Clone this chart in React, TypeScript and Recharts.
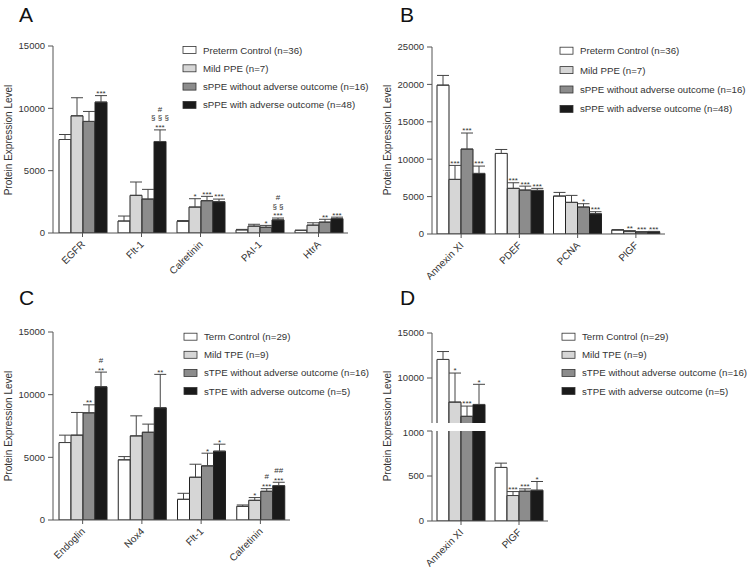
import React from 'react';
import { BarChart, Bar, XAxis, YAxis, ErrorBar, LabelList } from 'recharts';

const FONT = '"Liberation Sans", Arial, sans-serif';
const FILLS = ['#ffffff', '#d6d6d6', '#8c8c8c', '#1a1a1a'];
const AX = '#555';
const TXT = '#333';

// Panel A - preterm
const catsA = ['EGFR', 'Flt-1', 'Calretinin', 'PAI-1', 'HtrA'];
const namesA = ['Preterm Control (n=36)', 'Mild PPE (n=7)', 'sPPE without adverse outcome (n=16)', 'sPPE with adverse outcome (n=48)'];
const ctrlA = [7500, 960, 940, 250, 200];
const mildA = [9400, 3020, 2080, 550, 630];
const withoutA = [8950, 2720, 2590, 460, 870];
const withA = [10500, 7340, 2510, 1050, 1150];
const ctrlSemA = [400, 400, 60, 40, 40];
const mildSemA = [1450, 1070, 670, 150, 190];
const withoutSemA = [800, 780, 350, 150, 230];
const withSemA = [520, 930, 210, 150, 120];
const notesA = [
  ['', '', '', '', ''],
  ['', '', '*', '', ''],
  ['', '', '***', '*', '**'],
  ['***', '#|§ § §|***', '***', '#|§ §|***', '***'],
];

// Panel B - preterm
const catsB = ['Annexin XI', 'PDEF', 'PCNA', 'PlGF'];
const ctrlB = [19900, 10770, 5070, 530];
const mildB = [7300, 6100, 4230, 360];
const withoutB = [11350, 5870, 3600, 270];
const withB = [8100, 5830, 2710, 300];
const ctrlSemB = [1300, 530, 490, 70];
const mildSemB = [1870, 750, 930, 90];
const withoutSemB = [2150, 530, 450, 40];
const withSemB = [980, 270, 270, 50];
const notesB = [
  ['', '', '', ''],
  ['***', '***', '', '**'],
  ['***', '***', '*', '***'],
  ['***', '***', '***', '***'],
];

// Panel C - term
const catsC = ['Endoglin', 'Nox4', 'Flt-1', 'Calretinin'];
const namesC = ['Term Control (n=29)', 'Mild TPE (n=9)', 'sTPE without adverse outcome (n=16)', 'sTPE with adverse outcome (n=5)'];
const ctrlC = [6180, 4800, 1650, 1090];
const mildC = [6770, 6710, 3410, 1570];
const withoutC = [8550, 7000, 4320, 2290];
const withC = [10630, 8950, 5490, 2740];
const ctrlSemC = [590, 260, 480, 110];
const mildSemC = [1810, 1600, 1040, 220];
const withoutSemC = [640, 650, 1010, 210];
const withSemC = [1170, 2670, 560, 270];
const notesC = [
  ['', '', '', ''],
  ['', '', '', '*'],
  ['**', '', '*', '#|***'],
  ['#|**', '**', '*', '##|***'],
];

// Panel D - term, broken axis
const catsD = ['Annexin XI', 'PlGF'];
const ctrlD = [12060, 595];
const mildD = [7320, 283];
const withoutD = [5740, 331];
const withD = [7060, 342];
const ctrlSemD = [880, 48];
const mildSemD = [3230, 44];
const withoutSemD = [1140, 26];
const withSemD = [2240, 97];
const notesD = [
  ['', ''],
  ['*', '***'],
  ['***', '***'],
  ['*', '*'],
];

function buildRows(cats: string[], vals: number[][], sems: number[][], notes: string[][], minVal = -Infinity) {
  return cats.map((c, i) => {
    const r: any = { name: c };
    vals.forEach((v, k) => {
      r['s' + k] = v[i] > minVal ? v[i] : null;
      r['e' + k] = [0, sems[k][i]];
      r['n' + k] = notes[k][i];
    });
    return r;
  });
}

const dataA = buildRows(catsA, [ctrlA, mildA, withoutA, withA], [ctrlSemA, mildSemA, withoutSemA, withSemA], notesA);
const dataB = buildRows(catsB, [ctrlB, mildB, withoutB, withB], [ctrlSemB, mildSemB, withoutSemB, withSemB], notesB);
const dataC = buildRows(catsC, [ctrlC, mildC, withoutC, withC], [ctrlSemC, mildSemC, withoutSemC, withSemC], notesC);
const dataDLow = buildRows(catsD, [ctrlD, mildD, withoutD, withD], [ctrlSemD, mildSemD, withoutSemD, withSemD], notesD);
// upper segment of the broken axis only gets the bars that reach above 5000
const dataDHigh = buildRows(catsD, [ctrlD, mildD, withoutD, withD], [ctrlSemD, mildSemD, withoutSemD, withSemD], notesD, 5000);

// significance marks stacked above the error bar
function noteRenderer(data: any[], k: number, lo: number, hi: number) {
  return (props: any) => {
    const vb = props.viewBox || props;
    const row = data[props.index];
    if (!row || !vb) return null;
    const v = row['s' + k];
    const note = row['n' + k];
    if (!note || v == null || v > hi || v <= lo) return null;
    const h = Math.abs(vb.height);
    const top = Math.min(vb.y, vb.y + vb.height);
    const ppu = h / (v - lo);
    const ey = top - row['e' + k][1] * ppu;
    const lines = note.split('|');
    const n = lines.length;
    return (
      <g>
        {lines.map((t: string, j: number) => {
          const cy = ey - 4.2 - (n - 1 - j) * 8.3;
          const star = t.indexOf('*') >= 0;
          return (
            <text key={j} x={vb.x + vb.width / 2} y={cy + (star ? 4.6 : 3)} textAnchor="middle"
              fontSize={8} fill={TXT} fontFamily={FONT}>{t}</text>
          );
        })}
      </g>
    );
  };
}

const RotTick = (p: any) => (
  <g transform={`translate(${p.x},${p.y})`}>
    <text x={0} y={0} transform="translate(3,6) rotate(-45)" textAnchor="end"
      fontSize={10} fill={TXT} fontFamily={FONT}>{p.payload.value}</text>
  </g>
);

// bar cut at the axis break: no bottom edge
const OpenBottom = (p: any) => {
  const { x, y, width, height, fill } = p;
  if (!height || height <= 0) return null;
  return (
    <g>
      <rect x={x} y={y} width={width} height={height + 2} fill={fill} />
      <path d={`M${x},${y + height + 2}L${x},${y}L${x + width},${y}L${x + width},${y + height + 2}`}
        fill="none" stroke="#222" strokeWidth={1} />
    </g>
  );
};

function Panel(props: any) {
  const { data, left, top, width, height, margin, domain, ticks, hideX, xHeight, open } = props;
  const lo = domain[0];
  const hi = domain[1];
  return (
    <div style={{ position: 'absolute', left, top }}>
      <BarChart width={width} height={height} data={data} margin={margin} barGap={0}>
        <XAxis dataKey="name" hide={hideX} height={xHeight} stroke={AX} tickSize={4} tickMargin={2}
          tick={RotTick} interval={0} />
        <YAxis width={40} domain={domain} ticks={ticks} allowDataOverflow stroke={AX} tickSize={5}
          tickMargin={3} tick={{ fontSize: 9.5, fill: TXT, fontFamily: FONT }} />
        {[0, 1, 2, 3].map((k) => (
          <Bar key={k} dataKey={'s' + k} fill={FILLS[k]} stroke="#222" strokeWidth={1} barSize={12}
            isAnimationActive={false} shape={open ? OpenBottom : undefined}>
            <ErrorBar dataKey={'e' + k} width={6} stroke="#444" strokeWidth={1} direction="y" />
            <LabelList dataKey={'n' + k} content={noteRenderer(data, k, lo, hi)} />
          </Bar>
        ))}
      </BarChart>
    </div>
  );
}

function Legend({ x, y, step, names }: any) {
  return (
    <g>
      {names.map((nm: string, i: number) => (
        <g key={i}>
          <rect x={x} y={y + i * step - 3.5} width={13} height={7} fill={FILLS[i]} stroke="#333" strokeWidth={0.8} />
          <text x={x + 20} y={y + i * step + 3.5} fontSize={9.7} fill={TXT} fontFamily={FONT}>{nm}</text>
        </g>
      ))}
    </g>
  );
}

function YLabel({ x, y }: any) {
  return (
    <text x={x} y={y} transform={`rotate(-90 ${x} ${y})`} textAnchor="middle" dominantBaseline="middle"
      fontSize={10} fill={TXT} fontFamily={FONT}>Protein Expression Level</text>
  );
}

export default function App() {
  return (
    <div style={{ position: 'absolute', left: 0, top: 0, width: 751, height: 568, background: '#fff', overflow: 'hidden' }}>
      <Panel data={dataA} left={0} top={0} width={380} height={290}
        margin={{ top: 46, right: 32, bottom: 7, left: 13 }} xHeight={50}
        domain={[0, 15000]} ticks={[0, 5000, 10000, 15000]} />
      <Panel data={dataB} left={380} top={0} width={371} height={290}
        margin={{ top: 47, right: 86, bottom: 6, left: 12 }} xHeight={50}
        domain={[0, 25000]} ticks={[0, 5000, 10000, 15000, 20000, 25000]} />
      <Panel data={dataC} left={0} top={280} width={380} height={288}
        margin={{ top: 52, right: 90, bottom: 3, left: 13 }} xHeight={45}
        domain={[0, 15000]} ticks={[0, 5000, 10000, 15000]} />
      <Panel data={dataDHigh} left={380} top={320} width={371} height={105} hideX open
        margin={{ top: 13, right: 203, bottom: 2, left: 12 }}
        domain={[5000, 15000]} ticks={[5000, 10000, 15000]} />
      <Panel data={dataDLow} left={380} top={428} width={371} height={140}
        margin={{ top: 3, right: 203, bottom: 2, left: 12 }} xHeight={45}
        domain={[0, 1000]} ticks={[0, 500, 1000]} />
      <svg width={751} height={568} style={{ position: 'absolute', left: 0, top: 0, pointerEvents: 'none' }}>
        <text x={19} y={22} fontSize={21} fill="#111" fontFamily={FONT}>A</text>
        <text x={400} y={22} fontSize={21} fill="#111" fontFamily={FONT}>B</text>
        <text x={19} y={305} fontSize={21} fill="#111" fontFamily={FONT}>C</text>
        <text x={400} y={305} fontSize={21} fill="#111" fontFamily={FONT}>D</text>
        <YLabel x={9} y={140} />
        <YLabel x={388} y={140} />
        <YLabel x={9} y={426} />
        <YLabel x={388} y={426} />
        <Legend x={183} y={50} step={18.3} names={namesA} />
        <Legend x={560} y={50.7} step={19.4} names={namesA} />
        <Legend x={184} y={336.7} step={18.1} names={namesC} />
        <Legend x={562} y={336.7} step={18.1} names={namesC} />
      </svg>
    </div>
  );
}
